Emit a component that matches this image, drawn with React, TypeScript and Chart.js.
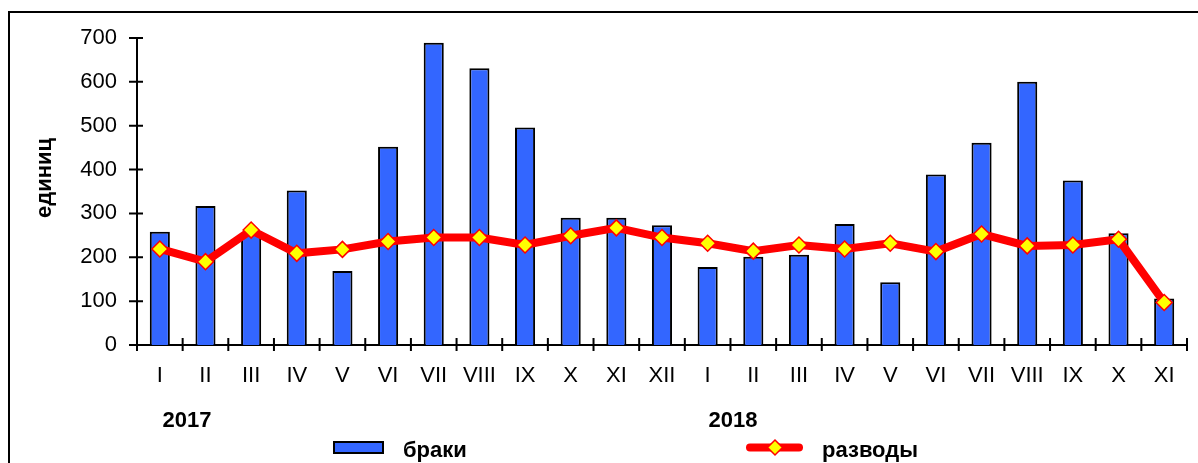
import React, { useEffect, useRef } from "react";
import { Chart, registerables } from "chart.js";

Chart.register(...registerables);

const months = ["I", "II", "III", "IV", "V", "VI", "VII", "VIII", "IX", "X", "XI", "XII", "I", "II", "III", "IV", "V", "VI", "VII", "VIII", "IX", "X", "XI"];
const marriages = [258, 317, 255, 352, 169, 452, 689, 631, 496, 290, 290, 273, 178, 201, 206, 276, 143, 389, 461, 600, 375, 255, 106];
const divorces = [219, 190, 262, 209, 218, 236, 245, 245, 228, 249, 267, 245, 232, 214, 228, 219, 232, 213, 253, 226, 228, 241, 97];
const yearLabels = ["2017", "2018"];
const seriesNames = ["браки", "разводы"];
const yTitle = "единиц";

const FONT = "'Liberation Sans', Arial, sans-serif";
const BLUE = "#3366FF";
const RED = "#FF0000";
const YELLOW = "#FFFF00";

const decorPlugin = {
  id: "decor",
  afterDraw(chart: any) {
    const ctx = chart.ctx;
    const xs = chart.scales.x;
    const ys = chart.scales.y;
    ctx.save();
    // frame
    ctx.strokeStyle = "#000";
    ctx.lineWidth = 2;
    ctx.strokeRect(9, 12, 1198, 500);

    // tick marks crossing axes
    ctx.lineWidth = 2;
    ctx.beginPath();
    const n = months.length;
    const y0 = ys.getPixelForValue(0);
    for (let i = 0; i <= n; i++) {
      const x = xs.left + (i * (xs.right - xs.left)) / n;
      ctx.moveTo(x, y0 - 7);
      ctx.lineTo(x, y0 + 6);
    }
    ys.ticks.forEach((t: any) => {
      const y = ys.getPixelForValue(t.value);
      ctx.moveTo(xs.left - 8, y);
      ctx.lineTo(xs.left + 6, y);
    });
    ctx.stroke();

    // y title
    ctx.fillStyle = "#000";
    ctx.font = `bold 22px ${FONT}`;
    ctx.save();
    ctx.translate(50.5, 178);
    ctx.rotate(-Math.PI / 2);
    ctx.textAlign = "center";
    ctx.textBaseline = "alphabetic";
    ctx.fillText(yTitle, 0, 0);
    ctx.restore();

    // year labels
    ctx.textAlign = "center";
    ctx.textBaseline = "alphabetic";
    ctx.fillText(yearLabels[0], 187, 427);
    ctx.fillText(yearLabels[1], 733, 427);

    // legend: bars
    ctx.fillStyle = BLUE;
    ctx.fillRect(334, 442, 49, 11);
    ctx.lineWidth = 2;
    ctx.strokeStyle = "#000";
    ctx.strokeRect(334, 442, 49, 11);
    ctx.fillStyle = "#000";
    ctx.textAlign = "left";
    ctx.fillText(seriesNames[0], 403, 457);

    // legend: line
    ctx.strokeStyle = RED;
    ctx.lineWidth = 8;
    ctx.lineCap = "round";
    ctx.beginPath();
    ctx.moveTo(750, 447.5);
    ctx.lineTo(799, 447.5);
    ctx.stroke();
    ctx.beginPath();
    ctx.moveTo(775, 440);
    ctx.lineTo(782.5, 447.5);
    ctx.lineTo(775, 455);
    ctx.lineTo(767.5, 447.5);
    ctx.closePath();
    ctx.fillStyle = YELLOW;
    ctx.fill();
    ctx.lineWidth = 1.5;
    ctx.stroke();
    ctx.fillStyle = "#000";
    ctx.fillText(seriesNames[1], 822, 457);
    ctx.restore();
  },
};

export default function App() {
  const ref = useRef<HTMLCanvasElement>(null);
  useEffect(() => {
    if (!ref.current) return;
    const chart = new Chart(ref.current, {
      data: {
        labels: months,
        datasets: [
          {
            type: "line",
            label: seriesNames[1],
            data: divorces,
            order: 0,
            borderColor: RED,
            borderWidth: 8,
            tension: 0,
            pointStyle: "rectRot",
            pointRadius: 8,
            pointBackgroundColor: YELLOW,
            pointBorderColor: RED,
            pointBorderWidth: 1.5,
          },
          {
            type: "bar",
            label: seriesNames[0],
            data: marriages,
            order: 1,
            backgroundColor: BLUE,
            borderColor: "#000",
            borderWidth: 2,
            categoryPercentage: 1,
            barPercentage: 0.44,
          },
        ],
      } as any,
      options: {
        responsive: false,
        animation: false,
        devicePixelRatio: 1,
        layout: { padding: { top: 38, right: 11, left: 0, bottom: 0 } },
        plugins: { legend: { display: false }, tooltip: { enabled: false } },
        scales: {
          x: {
            offset: true,
            grid: { display: false },
            border: { display: true, color: "#000", width: 2 },
            ticks: {
              color: "#000",
              font: { family: FONT, size: 22 },
              autoSkip: false,
              maxRotation: 0,
              padding: 10,
            },
            afterFit: (s: any) => {
              s.height = 118;
            },
          },
          y: {
            min: 0,
            max: 700,
            grid: { display: false },
            border: { display: true, color: "#000", width: 2 },
            ticks: {
              stepSize: 100,
              color: "#000",
              font: { family: FONT, size: 22 },
              padding: 12,
            },
            afterFit: (s: any) => {
              s.width = 137;
            },
          },
        },
      } as any,
      plugins: [decorPlugin],
    });
    return () => chart.destroy();
  }, []);
  return (
    <div style={{ position: "fixed", left: 0, top: 0, width: 1198, height: 463, background: "#fff" }}>
      <canvas ref={ref} width={1198} height={463} style={{ display: "block" }} />
    </div>
  );
}
